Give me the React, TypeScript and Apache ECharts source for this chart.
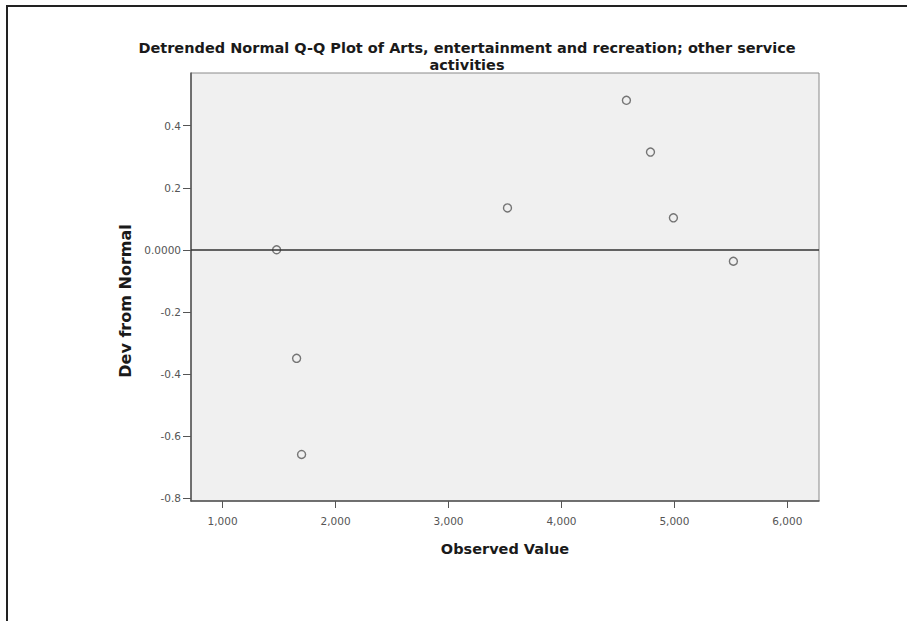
import React, { useEffect, useRef } from "react";
import * as echarts from "echarts";

const titleText =
  "Detrended Normal Q-Q Plot of Arts, entertainment and recreation; other service\nactivities";
const xAxisName = "Observed Value";
const yAxisName = "Dev from Normal";

const observedValues = [1478, 1655, 1699, 3522, 4575, 4788, 4991, 5522];
const devFromNormal = [0.0, -0.35, -0.66, 0.135, 0.482, 0.315, 0.103, -0.037];

const xTicks = [1000, 2000, 3000, 4000, 5000, 6000];
const yTicks = [-0.8, -0.6, -0.4, -0.2, 0.0, 0.2, 0.4];

export default function App() {
  const ref = useRef<HTMLDivElement>(null);

  useEffect(() => {
    if (!ref.current) return;
    const chart = echarts.init(ref.current, undefined, { renderer: "svg" });
    const points = observedValues.map((x, i) => [x, devFromNormal[i]]);
    const font = "'DejaVu Sans', Arial, sans-serif";

    chart.setOption({
      animation: false,
      backgroundColor: "#ffffff",
      title: {
        text: titleText,
        left: 462,
        top: 34,
        textAlign: "center",
        textStyle: {
          fontFamily: font,
          fontSize: 14.5,
          fontWeight: "bold",
          color: "#1a1a1a",
          lineHeight: 17,
        },
      },
      grid: {
        left: 191,
        right: 88,
        top: 73,
        bottom: 120,
        show: true,
        backgroundColor: "#f0f0f0",
        borderColor: "#8a8a8a",
        borderWidth: 1,
      },
      xAxis: {
        type: "value",
        min: 720,
        max: 6280,
        name: xAxisName,
        nameLocation: "middle",
        nameGap: 40,
        nameTextStyle: {
          fontFamily: font,
          fontSize: 14.5,
          fontWeight: "bold",
          color: "#1a1a1a",
        },
        splitLine: { show: false },
        axisLine: { show: true, onZero: false, lineStyle: { color: "#555", width: 1.5 } },
        axisTick: {
          show: true,
          length: 7,
          lineStyle: { color: "#555" },
          customValues: xTicks,
        },
        axisLabel: {
          fontFamily: font,
          fontSize: 10.5,
          color: "#555",
          margin: 14,
          customValues: xTicks,
          formatter: (v: number) => v.toLocaleString("en-US"),
        },
      },
      yAxis: {
        type: "value",
        min: -0.81,
        max: 0.57,
        name: yAxisName,
        nameLocation: "middle",
        nameGap: 53,
        nameTextStyle: {
          fontFamily: font,
          fontSize: 16,
          fontWeight: "bold",
          color: "#1a1a1a",
          padding: [0, 28, 0, 0],
        },
        splitLine: { show: false },
        axisLine: { show: true, onZero: false, lineStyle: { color: "#555", width: 1.5 } },
        axisTick: {
          show: true,
          length: 8,
          lineStyle: { color: "#555" },
          customValues: yTicks,
        },
        axisLabel: {
          fontFamily: font,
          fontSize: 10.5,
          color: "#555",
          margin: 10,
          customValues: yTicks,
          formatter: (v: number) => (Math.abs(v) < 1e-9 ? "0.0000" : v.toFixed(1)),
        },
      },
      series: [
        {
          type: "scatter",
          data: points,
          symbol: "circle",
          symbolSize: 8,
          itemStyle: {
            color: "rgba(0,0,0,0)",
            borderColor: "#555",
            borderWidth: 1.4,
          },
          markLine: {
            silent: true,
            symbol: ["none", "none"],
            label: { show: false },
            lineStyle: { color: "#333", width: 1.5, type: "solid" },
            data: [{ yAxis: 0 }],
          },
          z: 3,
        },
      ],
      graphic: [
        {
          type: "line",
          shape: { x1: 6, y1: 6, x2: 907, y2: 6 },
          style: { stroke: "#222", lineWidth: 2 },
        },
        {
          type: "line",
          shape: { x1: 7, y1: 6, x2: 7, y2: 621 },
          style: { stroke: "#222", lineWidth: 2 },
        },
      ],
    });

    return () => chart.dispose();
  }, []);

  return (
    <div
      ref={ref}
      style={{ position: "absolute", left: 0, top: 0, width: 907, height: 621 }}
    />
  );
}
